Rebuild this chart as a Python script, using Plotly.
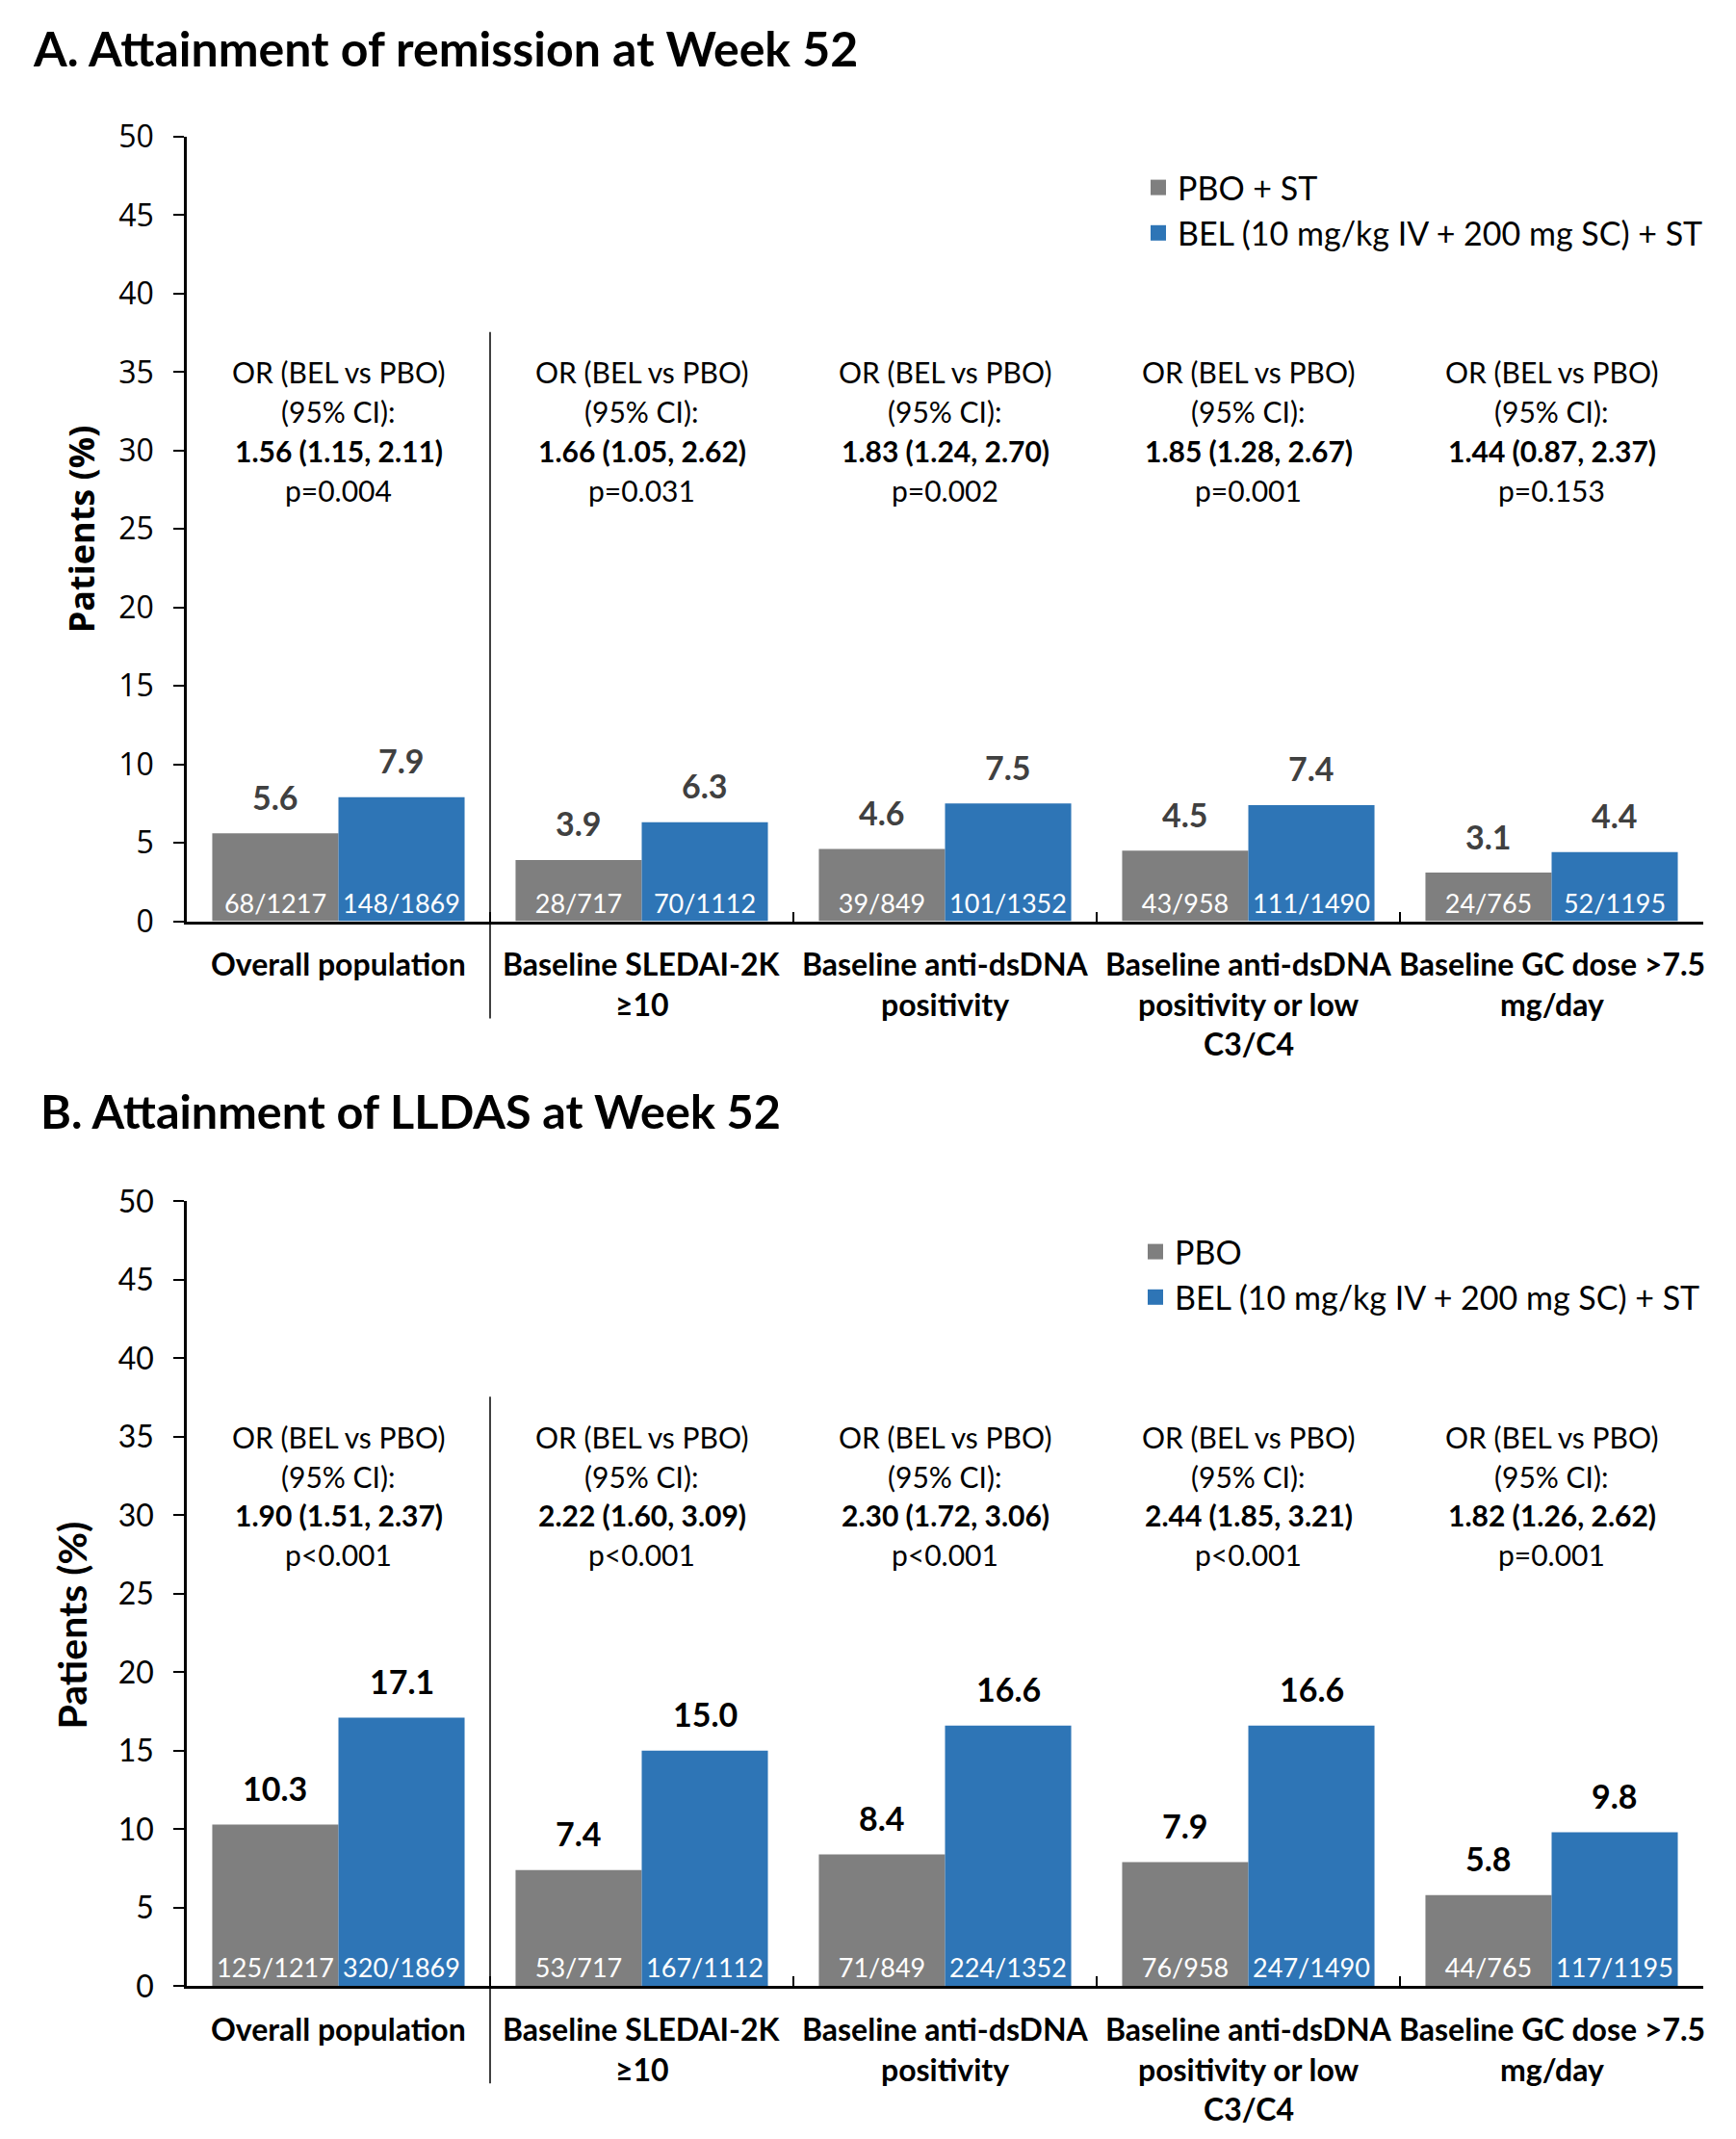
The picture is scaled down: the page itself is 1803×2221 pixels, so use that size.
import plotly.graph_objects as go

# ---------------- data ----------------
categories = ["Overall population", "Baseline SLEDAI-2K ≥10", "Baseline anti-dsDNA positivity",
              "Baseline anti-dsDNA positivity or low C3/C4", "Baseline GC dose >7.5 mg/day"]
category_lines = [["Overall population"], ["Baseline SLEDAI-2K", "≥10"],
                  ["Baseline anti-dsDNA", "positivity"],
                  ["Baseline anti-dsDNA", "positivity or low", "C3/C4"],
                  ["Baseline GC dose >7.5", "mg/day"]]

a_pbo = [5.6, 3.9, 4.6, 4.5, 3.1]
a_bel = [7.9, 6.3, 7.5, 7.4, 4.4]
a_pbo_n = ["68/1217", "28/717", "39/849", "43/958", "24/765"]
a_bel_n = ["148/1869", "70/1112", "101/1352", "111/1490", "52/1195"]
a_or = ["1.56 (1.15, 2.11)", "1.66 (1.05, 2.62)", "1.83 (1.24, 2.70)", "1.85 (1.28, 2.67)", "1.44 (0.87, 2.37)"]
a_p = ["p=0.004", "p=0.031", "p=0.002", "p=0.001", "p=0.153"]

b_pbo = [10.3, 7.4, 8.4, 7.9, 5.8]
b_bel = [17.1, 15.0, 16.6, 16.6, 9.8]
b_pbo_n = ["125/1217", "53/717", "71/849", "76/958", "44/765"]
b_bel_n = ["320/1869", "167/1112", "224/1352", "247/1490", "117/1195"]
b_or = ["1.90 (1.51, 2.37)", "2.22 (1.60, 3.09)", "2.30 (1.72, 3.06)", "2.44 (1.85, 3.21)", "1.82 (1.26, 2.62)"]
b_p = ["p<0.001", "p<0.001", "p<0.001", "p<0.001", "p=0.001"]

yticks = [0, 5, 10, 15, 20, 25, 30, 35, 40, 45, 50]

# ---------------- style ----------------
GREY = "#7f7f7f"
BLUE = "#2e75b6"
FONT = "Lato"
W, H = 1803, 2221
OFF = 8  # page body margin
BARGAP = 0.168
HALF = (1 - BARGAP) / 4  # bar centre offset in category units


def px_x(x):
    return (x - OFF) / W


def px_y(y):
    return 1 - (y - OFF) / H


fig = go.Figure()

panels = [
    dict(xa="x", ya="y", pbo=a_pbo, bel=a_bel, pbo_n=a_pbo_n, bel_n=a_bel_n, orv=a_or, pv=a_p,
         leg="legend", pbo_name="PBO + ST", vcol="#404040", base=956.5, top=142.0),
    dict(xa="x2", ya="y2", pbo=b_pbo, bel=b_bel, pbo_n=b_pbo_n, bel_n=b_bel_n, orv=b_or, pv=b_p,
         leg="legend2", pbo_name="PBO", vcol="#000000", base=2062.3, top=1247.3),
]

annotations = []
shapes = []
for k, p in enumerate(panels):
    for vals, ns, col in [(p["pbo"], p["pbo_n"], GREY), (p["bel"], p["bel_n"], BLUE)]:
        fig.add_trace(go.Bar(
            x=categories, y=vals, xaxis=p["xa"], yaxis=p["ya"],
            marker=dict(color=col, line=dict(width=0)),
            text=ns, textposition="inside", insidetextanchor="start", textangle=0,
            constraintext="none",
            insidetextfont=dict(family=FONT, size=27, color="white"),
            showlegend=False, hoverinfo="skip"))
    # legend entries
    for name, col, g in [(p["pbo_name"], GREY, "g1"), ("BEL (10 mg/kg IV + 200 mg SC) + ST", BLUE, "g2")]:
        fig.add_trace(go.Scatter(
            x=[None], y=[None], xaxis=p["xa"], yaxis=p["ya"], mode="markers", name=name,
            marker=dict(symbol="square", size=16, color=col), legend=p["leg"],
            legendgroup=g + str(k), showlegend=True))

    xr = p["xa"]
    yr = p["ya"]
    for i in range(len(categories)):
        # value labels
        for off, v in [(-HALF, p["pbo"][i]), (HALF, p["bel"][i])]:
            annotations.append(dict(x=i + off, y=v, xref=xr, yref=yr, text="<b>%.1f</b>" % v,
                                    showarrow=False, yanchor="middle", yshift=38,
                                    font=dict(family=FONT, size=34, color=p["vcol"])))
        # OR text
        lines = [("OR (BEL vs PBO)", False), ("(95% CI):", False), (p["orv"][i], True), (p["pv"][i], False)]
        for yv, (t, b) in zip([35, 32.5, 30, 27.5], lines):
            annotations.append(dict(x=i, y=yv, xref=xr, yref=yr, text=("<b>%s</b>" % t) if b else t,
                                    showarrow=False, yanchor="middle",
                                    font=dict(family=FONT, size=30, color="black")))
        # category labels (below the axis)
        for j, t in enumerate(category_lines[i]):
            annotations.append(dict(x=i, y=px_y(p["base"] + 44 + 41.7 * j), xref=xr, yref="paper",
                                    text="<b>%s</b>" % t, showarrow=False, yanchor="middle",
                                    font=dict(family=FONT, size=32, color="black")))
    # divider line between overall population and subgroups
    ppu = (p["base"] - p["top"]) / 50.0
    shapes.append(dict(type="line", xref=xr, yref="paper", x0=0.5, x1=0.5,
                       y0=px_y(p["base"] + 101), y1=px_y(p["base"] - 37.55 * ppu),
                       line=dict(color="black", width=1.5)))

# panel titles
annotations.append(dict(x=px_x(32), y=px_y(50), xref="paper", yref="paper",
                        text="<b>A. Attainment of remission at Week 52</b>", showarrow=False,
                        xanchor="left", yanchor="middle", font=dict(family=FONT, size=50, color="black")))
annotations.append(dict(x=px_x(40), y=px_y(1153), xref="paper", yref="paper",
                        text="<b>B. Attainment of LLDAS at Week 52</b>", showarrow=False,
                        xanchor="left", yanchor="middle", font=dict(family=FONT, size=48.5, color="black")))
# y-axis titles
annotations.append(dict(x=px_x(84), y=25, xref="paper", yref="y", text="<b>Patients (%)</b>",
                        showarrow=False, textangle=-90, xanchor="center", yanchor="middle",
                        font=dict(family="Open Sans", size=36, color="black")))
annotations.append(dict(x=px_x(74), y=23, xref="paper", yref="y2", text="<b>Patients (%)</b>",
                        showarrow=False, textangle=-90, xanchor="center", yanchor="middle",
                        font=dict(family=FONT, size=41, color="black")))

xdom = [px_x(194), px_x(1769)]
ydomA = [px_y(956.5), px_y(142)]
ydomB = [px_y(2062.3), px_y(1247.3)]


def xaxis_def(anchor):
    return dict(domain=xdom, anchor=anchor, type="category", range=[-0.5, 4.5],
                showline=True, linecolor="black", linewidth=3, ticks="inside",
                tickson="boundaries", ticklen=10, tickwidth=2, tickcolor="black",
                showticklabels=False, showgrid=False, zeroline=False, fixedrange=True)


def yaxis_def(anchor, dom, fam):
    return dict(domain=dom, anchor=anchor, range=[0, 50], tickvals=yticks,
                showline=True, linecolor="black", linewidth=2.5, ticks="outside",
                ticklen=11, tickwidth=2, tickcolor="black", ticklabelstandoff=14,
                tickfont=dict(family=fam, size=32, color="black"),
                showgrid=False, zeroline=False, fixedrange=True)


fig.update_layout(
    width=W, height=H, margin=dict(l=0, r=0, t=0, b=0, autoexpand=False),
    paper_bgcolor="white", plot_bgcolor="white",
    barmode="group", bargap=BARGAP, bargroupgap=0,
    xaxis=xaxis_def("y"), yaxis=yaxis_def("x", ydomA, "Open Sans"),
    xaxis2=xaxis_def("y2"), yaxis2=yaxis_def("x2", ydomB, FONT),
    legend=dict(x=px_x(1183), y=px_y(166), xanchor="left", yanchor="top",
                traceorder="grouped", tracegroupgap=0, bgcolor="rgba(0,0,0,0)",
                font=dict(family=FONT, size=34, color="black")),
    legend2=dict(x=px_x(1180), y=px_y(1271), xanchor="left", yanchor="top",
                 traceorder="grouped", tracegroupgap=0, bgcolor="rgba(0,0,0,0)",
                 font=dict(family=FONT, size=34, color="black")),
    annotations=annotations, shapes=shapes,
    font=dict(family=FONT, color="black"),
)

fig.write_html("out.html")
